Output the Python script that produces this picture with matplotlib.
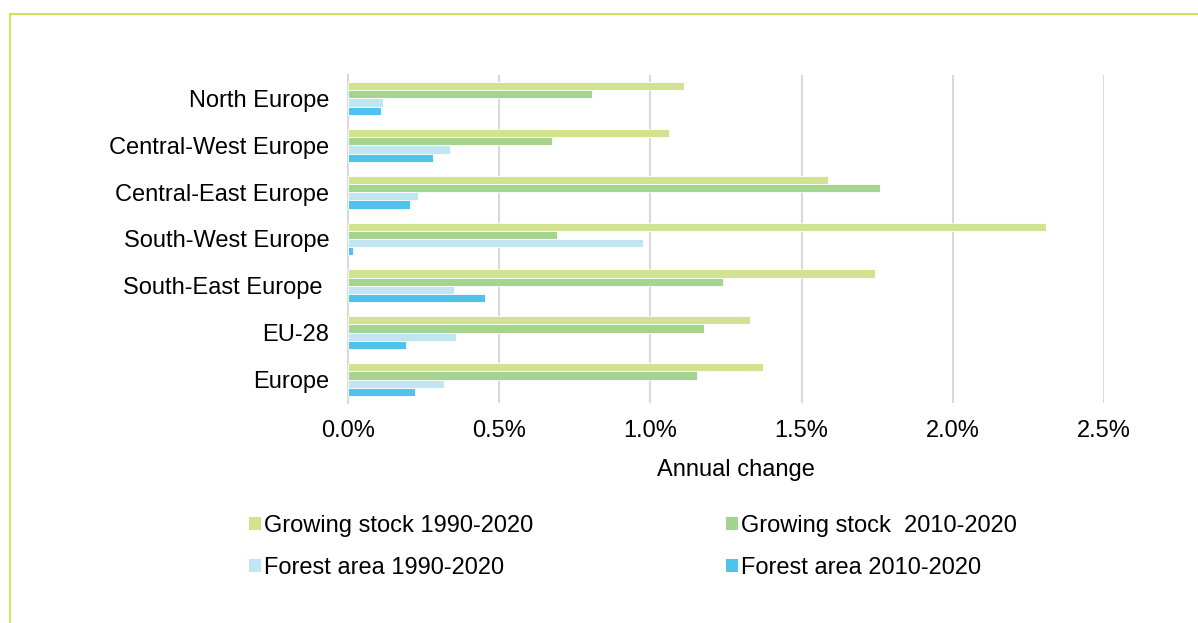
import matplotlib.pyplot as plt
import numpy as np
from matplotlib.patches import Patch
from matplotlib.lines import Line2D

plt.rcParams['font.family'] = ['Liberation Sans', 'DejaVu Sans']

regions = ["North Europe", "Central-West Europe", "Central-East Europe",
           "South-West Europe", "South-East Europe ", "EU-28", "Europe"]
gs_1990 = [1.11, 1.06, 1.587, 2.307, 1.742, 1.33, 1.374]
gs_2010 = [0.806, 0.675, 1.76, 0.692, 1.24, 1.177, 1.154]
fa_1990 = [0.115, 0.337, 0.233, 0.974, 0.35, 0.356, 0.318]
fa_2010 = [0.109, 0.28, 0.205, 0.016, 0.454, 0.192, 0.223]

series = [gs_1990, gs_2010, fa_1990, fa_2010]
names = ["Growing stock 1990-2020", "Growing stock  2010-2020",
         "Forest area 1990-2020", "Forest area 2010-2020"]
colors = ["#d1e391", "#a5d390", "#c1e6f1", "#50c3ed"]

fig = plt.figure(figsize=(11.98, 6.23), dpi=100)
ax = fig.add_axes([348/1198, 1 - 403/623, (1104-348)/1198, (403-75)/623])

y = np.arange(len(regions))
h = 0.1755
for k, (vals, c) in enumerate(zip(series, colors)):
    ax.barh(y + (k - 1.5)*h, vals, height=h, color=c,
            edgecolor='white', linewidth=0.6, zorder=3)

ax.set_xlim(0, 2.5)
ax.set_ylim(len(regions) - 0.5, -0.5)
ax.set_xticks(np.arange(0, 2.51, 0.5))
ax.set_xticklabels([f"{v:.1f}%" for v in np.arange(0, 2.51, 0.5)])
ax.set_yticks(y)
ax.set_yticklabels(regions)
ax.tick_params(axis='both', length=0, labelsize=17, colors='black')
ax.tick_params(axis='y', pad=13.5)
ax.tick_params(axis='x', pad=12)
ax.grid(axis='x', color='#d9d9d9', linewidth=1.5, zorder=0)
for s in ['top', 'right', 'bottom']:
    ax.spines[s].set_visible(False)
ax.spines['left'].set_color('#d9d9d9')
ax.spines['left'].set_linewidth(1.5)

ax.set_xlabel("Annual change", fontsize=17)
ax.xaxis.set_label_coords(0.513, -0.204)
ax.xaxis.label.set_verticalalignment('center')

# legend in two columns placed by hand
handles = [Patch(facecolor=c, edgecolor='none') for c in colors]
legend_kw = dict(frameon=False, fontsize=17, handlelength=0.5,
                 handleheight=0.5, handletextpad=0.15, labelspacing=0.85,
                 borderpad=0, borderaxespad=0, loc='center left')
leg1 = fig.legend([handles[0], handles[2]], [names[0], names[2]],
                  bbox_to_anchor=(249/1198, 1 - 547/623), **legend_kw)
leg2 = fig.legend([handles[1], handles[3]], [names[1], names[3]],
                  bbox_to_anchor=(726/1198, 1 - 547/623), **legend_kw)

# frame lines at top and left
border = '#c9dd3c'
fig.add_artist(Line2D([10/1198, 1], [1 - 14/623]*2, color=border, linewidth=1.2,
                      transform=fig.transFigure))
fig.add_artist(Line2D([10/1198]*2, [0, 1 - 14/623], color=border, linewidth=1.2,
                      transform=fig.transFigure))

fig.savefig("out.png", dpi=100)
